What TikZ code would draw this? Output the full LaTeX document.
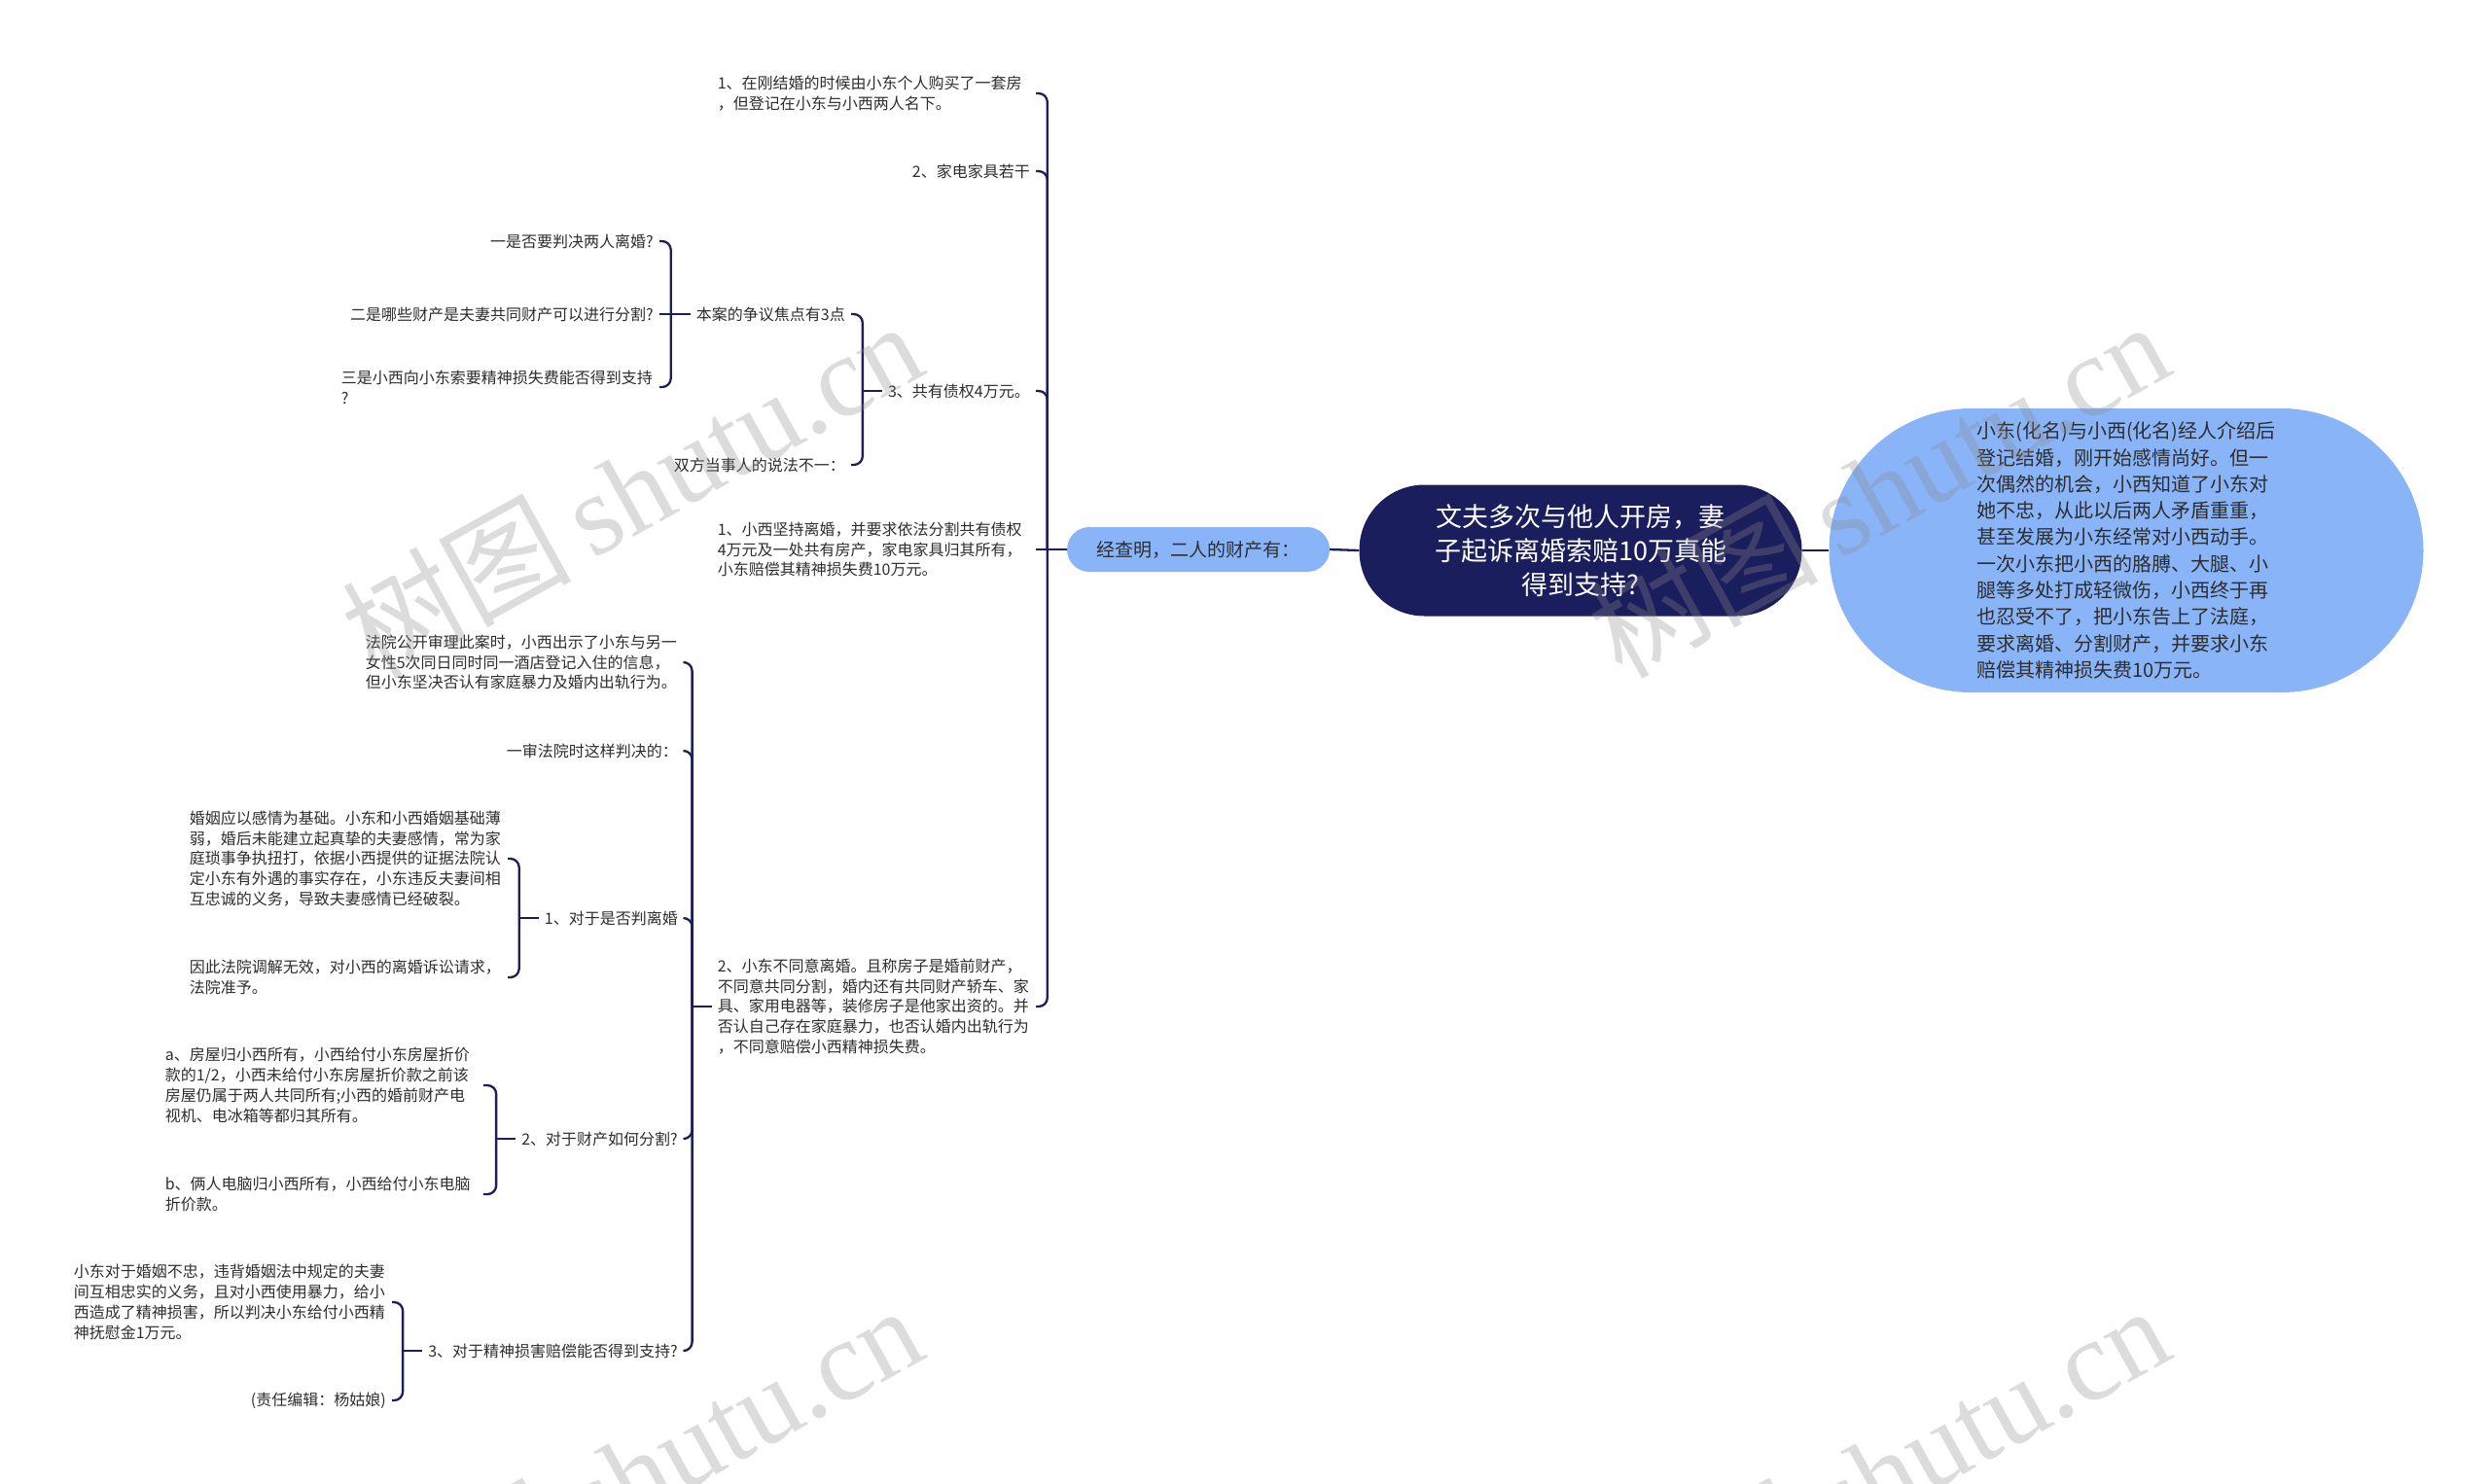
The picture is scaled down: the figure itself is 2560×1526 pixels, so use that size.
\documentclass[tikz,border=0pt]{standalone}
\usepackage{fontspec}
\setmainfont{Noto Sans CJK SC}
\newfontfamily\wmserif{Liberation Serif}
\definecolor{navy}{RGB}{27,30,92}
\definecolor{paleblue}{RGB}{137,180,247}
\definecolor{ink}{RGB}{45,45,45}
\begin{document}
\begin{tikzpicture}[x=1pt,y=-1pt,
  link/.style={draw=navy,line width=2.3pt,rounded corners=9pt},
  leaf/.style={anchor=east,inner xsep=6pt,inner ysep=2pt,text=ink,align=left,font=\fontsize{16}{20.8}\selectfont},
  para/.style={leaf,text width=321pt}]
\useasboundingbox (0,0) rectangle (2560,1526);
\node[fill=navy,text=white,rounded corners=67pt,minimum width=455pt,minimum height=135pt,align=center,font=\fontsize{27}{35}\selectfont] (title) at (1625,566) {文夫多次与他人开房，妻\\子起诉离婚索赔10万真能\\得到支持?};
\node[fill=paleblue,rounded corners=146pt,minimum width=611pt,minimum height=292pt,inner sep=0pt,text=ink,align=left,font=\fontsize{20}{27.3}\selectfont] (story) at (2186,566) {小东(化名)与小西(化名)经人介绍后\\登记结婚，刚开始感情尚好。但一\\次偶然的机会，小西知道了小东对\\她不忠，从此以后两人矛盾重重，\\甚至发展为小东经常对小西动手。\\一次小东把小西的胳膊、大腿、小\\腿等多处打成轻微伤，小西终于再\\也忍受不了，把小东告上了法庭，\\要求离婚、分割财产，并要求小东\\赔偿其精神损失费10万元。};
\node[fill=paleblue,rounded corners=23pt,minimum width=270pt,minimum height=46pt,text=ink,font=\fontsize{19}{23}\selectfont] (facts) at (1232,565) {经查明，二人的财产有：};
\draw[link] (title.west) -- (facts.east);
\draw[link] (title.east) -- (story.west);

\node[para] (own1) at (1065,96) {1、在刚结婚的时候由小东个人购买了一套房\\，但登记在小东与小西两人名下。};
\node[leaf] (own2) at (1065,176) {2、家电家具若干};
\node[leaf] (debt) at (1065,402) {3、共有债权4万元。};
\node[para] (wife) at (1065,565) {1、小西坚持离婚，并要求依法分割共有债权\\4万元及一处共有房产，家电家具归其所有，\\小东赔偿其精神损失费10万元。};
\node[para] (husb) at (1065,1035) {2、小东不同意离婚。且称房子是婚前财产，\\不同意共同分割，婚内还有共同财产轿车、家\\具、家用电器等，装修房子是他家出资的。并\\否认自己存在家庭暴力，也否认婚内出轨行为\\，不同意赔偿小西精神损失费。};
\draw[link] (facts.west) -- ++(-20,0) coordinate (jfacts);
\foreach \c in {own1,own2,debt,husb} \draw[link] (jfacts) |- (\c.east);
\draw[link] (jfacts) -- (wife.east);

\node[leaf] (focus) at (875,323) {本案的争议焦点有3点};
\node[leaf] (differ) at (875,478) {双方当事人的说法不一：};
\draw[link] (debt.west) -- ++(-20,0) coordinate (jdebt);
\foreach \c in {focus,differ} \draw[link] (jdebt) |- (\c.east);

\node[leaf] (q1) at (678,248) {一是否要判决两人离婚?};
\node[leaf] (q2) at (678,323) {二是哪些财产是夫妻共同财产可以进行分割?};
\node[para] (q3) at (678,398) {三是小西向小东索要精神损失费能否得到支持\\?};
\draw[link] (focus.west) -- ++(-20,0) coordinate (jfocus);
\foreach \c in {q1,q3} \draw[link] (jfocus) |- (\c.east);
\draw[link] (jfocus) -- (q2.east);

\node[para] (trial) at (703,681) {法院公开审理此案时，小西出示了小东与另一\\女性5次同日同时同一酒店登记入住的信息，\\但小东坚决否认有家庭暴力及婚内出轨行为。};
\node[leaf] (verdict) at (703,772) {一审法院时这样判决的：};
\node[leaf] (div) at (703,944) {1、对于是否判离婚};
\node[leaf] (split) at (703,1171) {2、对于财产如何分割?};
\node[leaf] (moral) at (703,1389) {3、对于精神损害赔偿能否得到支持?};
\draw[link] (husb.west) -- ++(-20,0) coordinate (jhusb);
\foreach \c in {trial,verdict,div,split,moral} \draw[link] (jhusb) |- (\c.east);

\node[para] (div1) at (522,883) {婚姻应以感情为基础。小东和小西婚姻基础薄\\弱，婚后未能建立起真挚的夫妻感情，常为家\\庭琐事争执扭打，依据小西提供的证据法院认\\定小东有外遇的事实存在，小东违反夫妻间相\\互忠诚的义务，导致夫妻感情已经破裂。};
\node[para] (div2) at (522,1005) {因此法院调解无效，对小西的离婚诉讼请求，\\法院准予。};
\draw[link] (div.west) -- ++(-20,0) coordinate (jdiv);
\foreach \c in {div1,div2} \draw[link] (jdiv) |- (\c.east);

\node[para] (split1) at (497,1116) {a、房屋归小西所有，小西给付小东房屋折价\\款的1/2，小西未给付小东房屋折价款之前该\\房屋仍属于两人共同所有;小西的婚前财产电\\视机、电冰箱等都归其所有。};
\node[para] (split2) at (497,1228) {b、俩人电脑归小西所有，小西给付小东电脑\\折价款。};
\draw[link] (split.west) -- ++(-20,0) coordinate (jsplit);
\foreach \c in {split1,split2} \draw[link] (jsplit) |- (\c.east);

\node[para] (moral1) at (403,1339) {小东对于婚姻不忠，违背婚姻法中规定的夫妻\\间互相忠实的义务，且对小西使用暴力，给小\\西造成了精神损害，所以判决小东给付小西精\\神抚慰金1万元。};
\node[leaf] (editor) at (403,1440) {(责任编辑：杨姑娘)};
\draw[link] (moral.west) -- ++(-20,0) coordinate (jmoral);
\foreach \c in {moral1,editor} \draw[link] (jmoral) |- (\c.east);

\foreach \wx/\wy in {649/502,1931/502,649/1514,1931/1514}
  \node[rotate=29,text=black!45,opacity=.3,font=\fontsize{118}{118}\selectfont] (wm-\wx-\wy) at (\wx,\wy) {树图\,{\wmserif shutu.cn}};
\end{tikzpicture}
\end{document}
